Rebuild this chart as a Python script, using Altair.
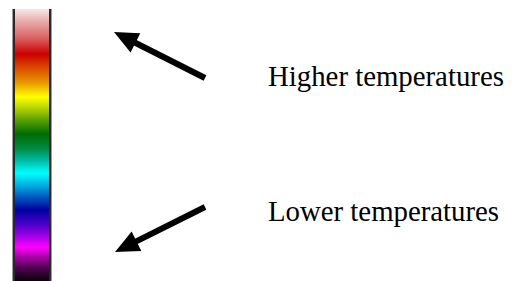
import math
import altair as alt
import pandas as pd

# ---- data (image pixel coordinates) ----
# colour bar extent
bar_x = [12, 52]
bar_y = [9, 281]
# colour ramp: position (pixel y from top) and colour
ramp_y = [9, 22, 38, 54, 68, 82, 97, 108, 120, 134, 148, 160, 173, 185, 197, 210, 224, 236, 247, 258, 268, 280]
ramp_c = ["#f5e8e8", "#e9a8a8", "#da6262", "#cc0000", "#dc4a00", "#e89400", "#ffff00", "#b8d400",
          "#5aa000", "#006c00", "#008a40", "#00b8a0", "#00ffff", "#00b0e0", "#0058c0", "#0000a0",
          "#4800c8", "#a000e8", "#ff00ff", "#a000a0", "#500050", "#100010"]
# arrows: tip and tail points
arrow_tip_x = [114, 115]
arrow_tip_y = [32, 252]
arrow_tail_x = [205, 205]
arrow_tail_y = [78, 207]
# labels
labels = ["Higher temperatures", "Lower temperatures"]
label_x = [268, 268]
label_y = [85.5, 221]

W, H = 500, 273
X0, Y0 = 8, 8

xs = alt.Scale(domain=[X0, X0 + W], nice=False, zero=False)
ys = alt.Scale(domain=[Y0, Y0 + H], nice=False, zero=False, reverse=True)

# frame
frame_df = pd.DataFrame({"x": [bar_x[0]], "x2": [bar_x[1]], "y": [bar_y[0]], "y2": [bar_y[1]]})
inner_df = pd.DataFrame({"x": [bar_x[0] + 1], "x2": [bar_x[1] - 1], "y": [bar_y[0]], "y2": [bar_y[1]]})
grad_df = pd.DataFrame({"x": [bar_x[0] + 3], "x2": [bar_x[1] - 3], "y": [bar_y[0]], "y2": [bar_y[1]]})


def rect_layer(df, color):
    return alt.Chart(df).mark_rect(color=color).encode(
        x=alt.X("x:Q", scale=xs, axis=None),
        x2="x2:Q",
        y=alt.Y("y:Q", scale=ys, axis=None),
        y2="y2:Q",
    )


span = bar_y[1] - bar_y[0]
stops = [alt.GradientStop(offset=min(1, max(0, (yy - bar_y[0]) / span)), color=c) for yy, c in zip(ramp_y, ramp_c)]
gradient = alt.Gradient(gradient="linear", stops=stops, x1=0, x2=0, y1=0, y2=1)

outer = rect_layer(frame_df, "#9c9c9c")
inner = rect_layer(inner_df, "#2a2a2a")
grad = alt.Chart(grad_df).mark_rect(color=gradient).encode(
    x=alt.X("x:Q", scale=xs, axis=None),
    x2="x2:Q",
    y=alt.Y("y:Q", scale=ys, axis=None),
    y2="y2:Q",
)

# arrows
head_len = 24
shaft_rows, head_rows = [], []
for tx, ty, sx, sy in zip(arrow_tip_x, arrow_tip_y, arrow_tail_x, arrow_tail_y):
    dx, dy = tx - sx, ty - sy
    L = math.hypot(dx, dy)
    ux, uy = dx / L, dy / L
    ang = math.degrees(math.atan2(ux, -uy)) % 360
    bx, by = tx - ux * (head_len - 3), ty - uy * (head_len - 3)
    shaft_rows.append({"x": sx, "y": sy, "x2": bx, "y2": by})
    head_rows.append({"x": tx - ux * head_len / 2, "y": ty - uy * head_len / 2, "a": ang})

shaft = alt.Chart(pd.DataFrame(shaft_rows)).mark_rule(color="black", strokeWidth=6, strokeCap="butt").encode(
    x=alt.X("x:Q", scale=xs, axis=None),
    x2="x2:Q",
    y=alt.Y("y:Q", scale=ys, axis=None),
    y2="y2:Q",
)
head = alt.Chart(pd.DataFrame(head_rows)).mark_point(
    shape="M0,-1L0.9,1L-0.9,1Z", filled=True, color="black", opacity=1, size=head_len ** 2, strokeWidth=0
).encode(
    x=alt.X("x:Q", scale=xs, axis=None),
    y=alt.Y("y:Q", scale=ys, axis=None),
    angle=alt.Angle("a:Q", scale=None),
)

text = alt.Chart(pd.DataFrame({"t": labels, "x": label_x, "y": label_y})).mark_text(
    align="left", baseline="alphabetic", font="Liberation Serif", fontSize=28.8, color="black"
).encode(
    x=alt.X("x:Q", scale=xs, axis=None),
    y=alt.Y("y:Q", scale=ys, axis=None),
    text="t:N",
)

chart = alt.layer(outer, inner, grad, shaft, head, text).properties(
    width=W, height=H, autosize=alt.AutoSizeParams(type="none"), padding=0, background="white"
).configure_view(stroke=None)

chart.save("out.html", embed_options={"renderer": "svg", "actions": False})
